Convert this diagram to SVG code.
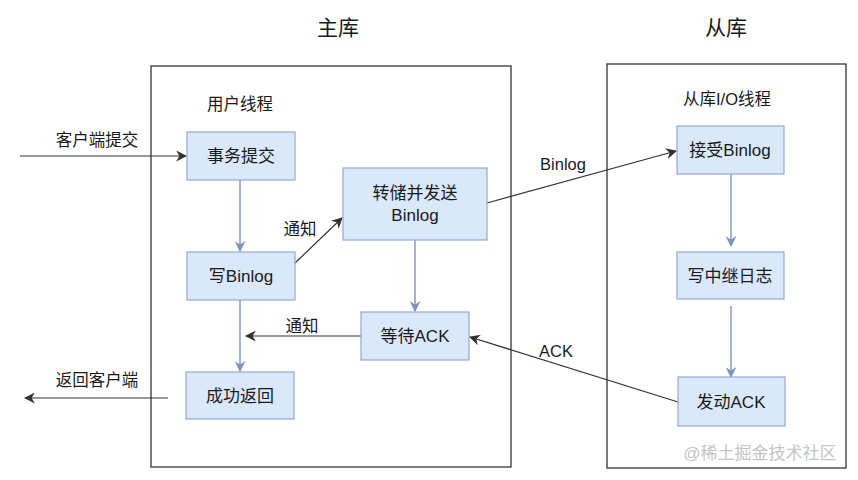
<svg xmlns="http://www.w3.org/2000/svg" width="858" height="480" viewBox="0 0 858 480">
<style>
text{font-family:"Liberation Sans","Noto Sans CJK SC",sans-serif;fill:#1a1a1a;text-anchor:middle}
.t{font-size:21px}
.n rect{fill:#dae8fc;stroke:#94a9d1;stroke-width:1.2}
.n text{font-size:17px}
.l{font-size:16.5px}
.c{fill:none;stroke:#333;stroke-width:1.2}
.b{fill:none;stroke:#7f93c0;stroke-width:1.4}
.frame{fill:none;stroke:#333;stroke-width:1.3}
</style>
<defs>
<marker id="ad" viewBox="0 0 10 10" refX="9" refY="5" markerWidth="11" markerHeight="11" markerUnits="userSpaceOnUse" orient="auto">
<path d="M0,0 L10,5 L0,10 L3,5 Z" fill="#333"/>
</marker>
<marker id="ab" viewBox="0 0 10 10" refX="9" refY="5" markerWidth="11" markerHeight="11" markerUnits="userSpaceOnUse" orient="auto">
<path d="M0,0 L10,5 L0,10 L3,5 Z" fill="#7f93c0"/>
</marker>
</defs>
<rect width="858" height="480" fill="#fff"/>
<g id="frames">
<rect class="frame" x="151" y="66" width="360" height="401"/>
<rect class="frame" x="607" y="64" width="239" height="404"/>
<text class="t" x="338" y="35">主库</text>
<text class="t" x="726" y="35">从库</text>
<text class="l" x="240" y="110">用户线程</text>
<text class="l" x="727" y="105">从库I/O线程</text>
</g>
<g id="connectors">
<line class="c" x1="20" y1="156" x2="186" y2="156" marker-end="url(#ad)"/>
<text class="l" x="97" y="146">客户端提交</text>
<line class="b" x1="240" y1="180" x2="240" y2="251" marker-end="url(#ab)"/>
<line class="c" x1="295" y1="263" x2="342" y2="218" marker-end="url(#ad)"/>
<text class="l" x="300" y="235">通知</text>
<line class="b" x1="415" y1="240" x2="415" y2="311" marker-end="url(#ab)"/>
<line class="c" x1="361" y1="336" x2="246" y2="336" marker-end="url(#ad)"/>
<text class="l" x="302" y="332">通知</text>
<line class="b" x1="240" y1="300" x2="240" y2="371" marker-end="url(#ab)"/>
<line class="c" x1="168" y1="398" x2="25" y2="398" marker-end="url(#ad)"/>
<text class="l" x="97" y="386">返回客户端</text>
<line class="c" x1="487" y1="203" x2="676" y2="151" marker-end="url(#ad)"/>
<text class="l" x="563" y="170">Binlog</text>
<line class="c" x1="678" y1="402" x2="470" y2="337" marker-end="url(#ad)"/>
<text class="l" x="556" y="357">ACK</text>
<line class="b" x1="731" y1="174" x2="731" y2="246" marker-end="url(#ab)"/>
<line class="b" x1="731" y1="306" x2="731" y2="377" marker-end="url(#ab)"/>
</g>
<g id="n1" class="n"><rect x="187" y="132" width="108" height="48"/><text x="241" y="162">事务提交</text></g>
<g id="n2" class="n"><rect x="187" y="252" width="108" height="48"/><text x="241" y="282">写Binlog</text></g>
<g id="n3" class="n"><rect x="186" y="372" width="108" height="47"/><text x="240" y="402">成功返回</text></g>
<g id="n4" class="n"><rect x="343" y="168" width="144" height="72"/><text x="415" y="199">转储并发送</text><text x="415" y="221">Binlog</text></g>
<g id="n5" class="n"><rect x="361" y="312" width="108" height="48"/><text x="415" y="342">等待ACK</text></g>
<g id="n6" class="n"><rect x="677" y="126" width="107" height="48"/><text x="730" y="156">接受Binlog</text></g>
<g id="n7" class="n"><rect x="677" y="252" width="107" height="47"/><text x="730" y="282">写中继日志</text></g>
<g id="n8" class="n"><rect x="678" y="377" width="107" height="49"/><text x="731" y="408">发动ACK</text></g>
<text x="760" y="459" font-size="17" style="fill:#c4c4c4">@稀土掘金技术社区</text>
</svg>
